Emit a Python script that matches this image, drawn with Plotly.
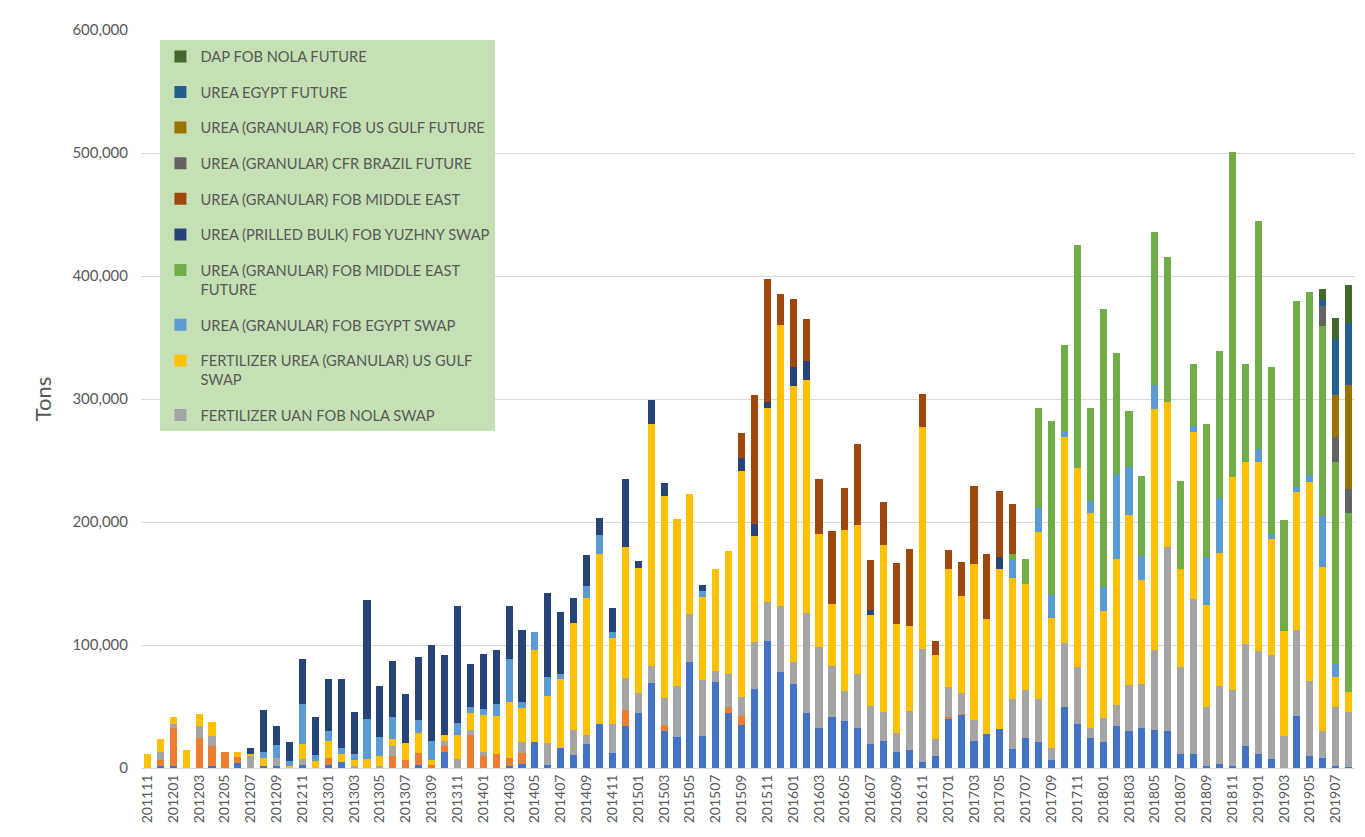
import plotly.graph_objects as go

months = [
    "201111", "201112",
    "201201", "201202", "201203", "201204", "201205", "201206", "201207", "201208", "201209", "201210", "201211", "201212",
    "201301", "201302", "201303", "201304", "201305", "201306", "201307", "201308", "201309", "201310", "201311", "201312",
    "201401", "201402", "201403", "201404", "201405", "201406", "201407", "201408", "201409", "201410", "201411", "201412",
    "201501", "201502", "201503", "201504", "201505", "201506", "201507", "201508", "201509", "201510", "201511", "201512",
    "201601", "201602", "201603", "201604", "201605", "201606", "201607", "201608", "201609", "201610", "201611", "201612",
    "201701", "201702", "201703", "201704", "201705", "201706", "201707", "201708", "201709", "201710", "201711", "201712",
    "201801", "201802", "201803", "201804", "201805", "201806", "201807", "201808", "201809", "201810", "201811", "201812",
    "201901", "201902", "201903", "201904", "201905", "201906", "201907", "201908",
]

tick_labels = [
    "201111", "201201", "201203", "201205", "201207", "201209", "201211",
    "201301", "201303", "201305", "201307", "201309", "201311",
    "201401", "201403", "201405", "201407", "201409", "201411",
    "201501", "201503", "201505", "201507", "201509", "201511",
    "201601", "201603", "201605", "201607", "201609", "201611",
    "201701", "201703", "201705", "201707", "201709", "201711",
    "201801", "201803", "201805", "201807", "201809", "201811",
    "201901", "201903", "201905", "201907",
]

y_ticks = [0, 100000, 200000, 300000, 400000, 500000, 600000]

# series (bottom of stack first), tons per month
other_a = [0, 1500, 1500, 0, 0, 2000, 0, 4000, 0, 2000,
           2000, 0, 2700, 0, 2700, 4600, 0, 0, 0, 0,
           0, 2700, 0, 12800, 0, 0, 0, 0, 2000, 3500,
           21000, 2500, 16000, 10600, 19300, 35700, 12500, 33800, 44700, 69200,
           29700, 25000, 86400, 26400, 70000, 44700, 35000, 64000, 103000, 77700,
           68500, 44600, 32900, 41800, 38600, 32900, 19600, 22300, 12800, 14700,
           5200, 9800, 40600, 43400, 22300, 27700, 31400, 15100, 24000, 20900,
           6600, 49400, 35700, 24300, 21400, 34300, 30000, 32900, 30900, 29900,
           11000, 11000, 2000, 3300, 2000, 17600, 11000, 7600, 0, 42500,
           10000, 8300, 1700, 700]

other_b = [0, 5000, 31000, 0, 24500, 16000, 12800, 5000, 0, 0,
           0, 0, 0, 0, 5400, 0, 0, 0, 0, 9500,
           6800, 9500, 2700, 4900, 0, 27000, 10000, 11700, 6000, 8700,
           0, 0, 0, 0, 0, 0, 0, 13000, 0, 0,
           5400, 0, 0, 0, 0, 4600, 7000, 0, 0, 0,
           0, 0, 0, 0, 0, 0, 0, 0, 0, 0,
           0, 0, 900, 900, 0, 0, 0, 0, 0, 0,
           0, 0, 0, 0, 0, 0, 0, 0, 0, 0,
           0, 0, 0, 0, 0, 0, 0, 0, 0, 0,
           0, 0, 0, 0]

uan_nola_swap = [0, 6500, 3300, 0, 10000, 8000, 0, 0, 10000, 0,
                 6000, 0, 5000, 0, 0, 0, 1500, 0, 1400, 8700,
                 0, 0, 0, 4000, 7600, 4000, 2700, 0, 0, 8700,
                 0, 17700, 0, 20400, 7600, 0, 23000, 26400, 16300, 13600,
                 21800, 42000, 38700, 45500, 8700, 27300, 16000, 38300, 31800, 53800,
                 17700, 81500, 65200, 41300, 23600, 43500, 31000, 23600, 15500, 32000,
                 91800, 13900, 24300, 16600, 16900, 0, 0, 40600, 39700, 34900,
                 9700, 52000, 46300, 8600, 19400, 16600, 37700, 35100, 65400, 149800,
                 70800, 126200, 47200, 63100, 61500, 83000, 84000, 84000, 25900, 69800,
                 60800, 21900, 47500, 44500]

urea_us_gulf_swap = [11500, 10500, 6000, 14700, 9500, 11000, 0, 3800, 1600, 6000,
                     0, 1400, 12000, 5400, 13600, 7000, 5000, 7600, 8000, 5400,
                     13600, 16300, 4000, 5400, 19600, 13600, 30000, 30500, 45700, 27500,
                     74800, 38700, 56000, 87000, 111700, 138400, 69800, 106800, 102000, 197000,
                     164300, 135700, 97600, 66800, 83100, 99500, 183500, 86000, 157600, 228800,
                     224700, 189400, 92400, 50500, 131000, 121200, 73600, 135300, 88800, 69000,
                     179900, 68500, 96300, 78600, 127000, 93700, 130600, 98600, 86300, 135700,
                     105700, 167700, 162300, 174300, 86900, 119100, 138000, 84900, 195300, 117900,
                     79700, 136200, 83000, 108300, 172700, 148500, 154100, 94300, 85700, 112300,
                     162100, 133500, 24900, 16600]

urea_egypt_swap = [0, 0, 0, 0, 0, 0, 0, 0, 0, 5000,
                   11000, 4600, 32000, 5400, 8000, 4600, 4500, 32600, 16000, 18000,
                   0, 10300, 15500, 0, 9500, 5000, 5000, 10000, 35000, 5000,
                   15000, 15000, 4600, 0, 9500, 15000, 5400, 0, 0, 0,
                   0, 0, 0, 4900, 0, 0, 0, 0, 0, 0,
                   0, 0, 0, 0, 0, 0, 0, 0, 0, 0,
                   0, 0, 0, 0, 0, 0, 0, 14900, 0, 20000,
                   18600, 4300, 0, 10000, 19400, 69400, 39400, 19400, 19900, 0,
                   0, 5000, 39200, 44800, 0, 0, 10300, 4300, 0, 4000,
                   5000, 40900, 10600, 0]

urea_me_future = [0, 0, 0, 0, 0, 0, 0, 0, 0, 0,
                  0, 0, 0, 0, 0, 0, 0, 0, 0, 0,
                  0, 0, 0, 0, 0, 0, 0, 0, 0, 0,
                  0, 0, 0, 0, 0, 0, 0, 0, 0, 0,
                  0, 0, 0, 0, 0, 0, 0, 0, 0, 0,
                  0, 0, 0, 0, 0, 0, 0, 0, 0, 0,
                  0, 0, 0, 0, 0, 0, 0, 5100, 20000, 80900,
                  141400, 70900, 180900, 75100, 225700, 97700, 45400, 65400, 124600, 117600,
                  72100, 49800, 108000, 119300, 264800, 79700, 185000, 135500, 89700, 151100,
                  149500, 155100, 164400, 145200]

urea_yuzhny_swap = [0, 0, 0, 0, 0, 0, 0, 0, 4600, 34000,
                    15500, 15000, 37000, 30500, 42700, 56000, 34500, 96600, 41000, 45000,
                    40000, 51700, 78000, 64500, 95000, 35000, 45000, 43500, 43000, 58500,
                    0, 68000, 50400, 20400, 25000, 14200, 19600, 55300, 5400, 19000,
                    10400, 0, 0, 5200, 0, 0, 10200, 10300, 4900, 0,
                    15000, 15000, 0, 0, 0, 0, 4600, 0, 0, 0,
                    0, 0, 0, 0, 0, 0, 9400, 0, 0, 0,
                    0, 0, 0, 0, 0, 0, 0, 0, 0, 0,
                    0, 0, 0, 0, 0, 0, 0, 0, 0, 0,
                    0, 0, 0, 0]

urea_middle_east = [0, 0, 0, 0, 0, 0, 0, 0, 0, 0,
                    0, 0, 0, 0, 0, 0, 0, 0, 0, 0,
                    0, 0, 0, 0, 0, 0, 0, 0, 0, 0,
                    0, 0, 0, 0, 0, 0, 0, 0, 0, 0,
                    0, 0, 0, 0, 0, 0, 20500, 105000, 100500, 25300,
                    55200, 34800, 44800, 59000, 34800, 65700, 40200, 35000, 49700, 62500,
                    27200, 10900, 15100, 27700, 63400, 52900, 54000, 40600, 0, 0,
                    0, 0, 0, 0, 0, 0, 0, 0, 0, 0,
                    0, 0, 0, 0, 0, 0, 0, 0, 0, 0,
                    0, 0, 0, 0]

urea_brazil_future = [0] * 91 + [15900, 20300, 19900]
urea_us_gulf_future = [0] * 92 + [33900, 84700]
urea_egypt_future = [0] * 91 + [5000, 45800, 49800]
dap_nola_future = [0] * 91 + [9000, 16600, 30900]

series = [
    ("Other series A", other_a, "#4472C4", False),
    ("Other series B", other_b, "#ED7D31", False),
    ("FERTILIZER UAN FOB NOLA SWAP", uan_nola_swap, "#A5A5A5", True),
    ("FERTILIZER UREA (GRANULAR) US GULF<br>SWAP", urea_us_gulf_swap, "#FFC000", True),
    ("UREA (GRANULAR) FOB EGYPT SWAP", urea_egypt_swap, "#5B9BD5", True),
    ("UREA (GRANULAR) FOB MIDDLE EAST<br>FUTURE", urea_me_future, "#70AD47", True),
    ("UREA (PRILLED BULK) FOB YUZHNY SWAP", urea_yuzhny_swap, "#264478", True),
    ("UREA (GRANULAR) FOB MIDDLE EAST", urea_middle_east, "#9E480E", True),
    ("UREA (GRANULAR) CFR BRAZIL FUTURE", urea_brazil_future, "#636363", True),
    ("UREA (GRANULAR) FOB US GULF FUTURE", urea_us_gulf_future, "#997300", True),
    ("UREA EGYPT FUTURE", urea_egypt_future, "#255E91", True),
    ("DAP FOB NOLA FUTURE", dap_nola_future, "#43682B", True),
]

FONT = "Lato, 'Open Sans', sans-serif"
TXT = "#595959"

fig = go.Figure()
for i, (name, vals, color, show) in enumerate(series):
    fig.add_trace(go.Bar(
        x=months, y=vals, name=name,
        marker=dict(color=color, line=dict(width=0)),
        showlegend=show, legendgroup="g%d" % i, legendrank=100 - i,
    ))

# the page body has an 8px margin, so the figure is sized to sit inside the window
fig.update_layout(
    width=1349, height=829, autosize=False,
    barmode="stack", bargap=0.45,
    paper_bgcolor="white", plot_bgcolor="white",
    margin=dict(l=133, r=2, t=22, b=69),
    font=dict(family=FONT, color=TXT, size=13),
    xaxis=dict(
        type="category", categoryorder="array", categoryarray=months,
        range=[-0.5, len(months) - 0.5],
        tickmode="array", tickvals=tick_labels, ticktext=tick_labels,
        tickangle=-90, tickfont=dict(size=14, color=TXT, family=FONT),
        showgrid=False, showline=True, linecolor="#D9D9D9", linewidth=1,
        ticks="", zeroline=False,
    ),
    yaxis=dict(
        range=[0, 600000], tickmode="array", tickvals=y_ticks,
        tickformat=",", tickfont=dict(size=15, color=TXT, family=FONT),
        showgrid=True, gridcolor="#D9D9D9", gridwidth=1,
        zeroline=False, showline=False, ticks="", ticklabelstandoff=12,
        title=dict(text="Tons", font=dict(size=22, color=TXT, family=FONT), standoff=14),
    ),
    legend=dict(
        x=0.016, y=0.986, xanchor="left", yanchor="top",
        bgcolor="#C5E0B4", borderwidth=0,
        font=dict(size=14.7, color=TXT, family=FONT),
        traceorder="grouped", tracegroupgap=13.5, valign="top",
        itemwidth=30,
    ),
    shapes=[dict(
        type="rect", xref="paper", yref="paper",
        x0=-0.111, x1=1.003, y0=-0.1, y1=1.0366,
        line=dict(color="#D9D9D9", width=1), fillcolor="rgba(0,0,0,0)", layer="below",
    )],
)

fig.write_html("out.html")
